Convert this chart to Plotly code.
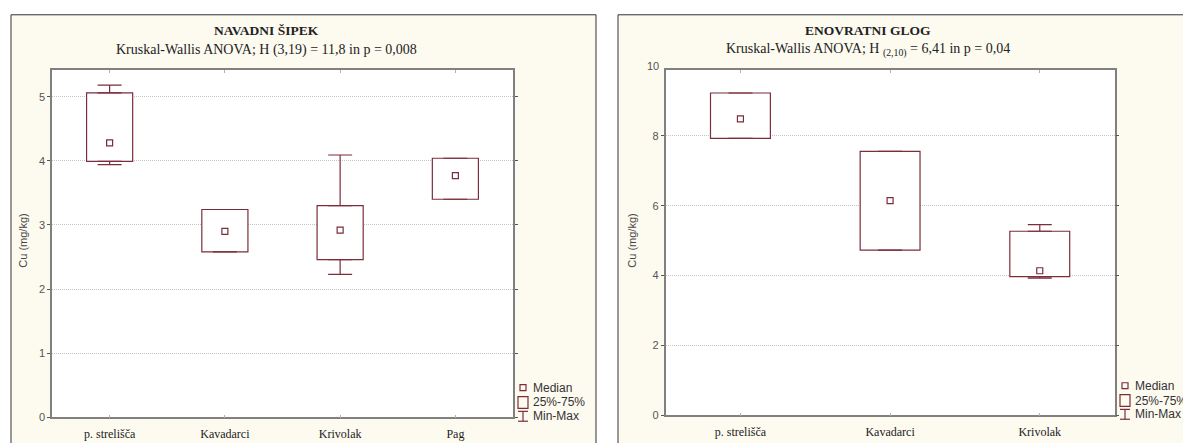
import plotly.graph_objects as go

# Cu concentrations (mg/kg) by site: min, quartiles, median, max
sipek_sites = ["p. strelišča", "Kavadarci", "Krivolak", "Pag"]
sipek_min = [3.94, 2.58, 2.23, 3.40]
sipek_q1 = [3.99, 2.58, 2.46, 3.40]
sipek_median = [4.28, 2.90, 2.92, 3.77]
sipek_q3 = [5.06, 3.24, 3.30, 4.04]
sipek_max = [5.18, 3.24, 4.09, 4.04]

glog_sites = ["p. strelišča", "Kavadarci", "Krivolak"]
glog_min = [7.93, 4.73, 3.93]
glog_q1 = [7.93, 4.73, 3.97]
glog_median = [8.49, 6.15, 4.14]
glog_q3 = [9.23, 7.56, 5.27]
glog_max = [9.23, 7.56, 5.46]

sipek_ticks = [0, 1, 2, 3, 4, 5]
glog_ticks = [0, 2, 4, 6, 8]

W, H = 1183, 443
BOX = "#7b2d3b"
CREAM = "#fdfaf0"
FRAME = "#808080"


def px(x):
    return x / W


def py(y):
    return 1 - y / H


fig = go.Figure()


def add_panel(xa, ya, sites, vmin, q1, med, q3, vmax):
    n = len(sites)
    # whiskers above and below the box
    fig.add_trace(go.Scatter(
        x=sites, y=q3, mode="markers", xaxis=xa, yaxis=ya,
        marker=dict(size=1, color="rgba(0,0,0,0)"), showlegend=False, hoverinfo="skip",
        error_y=dict(type="data", symmetric=False,
                     array=[b - a for a, b in zip(q3, vmax)], arrayminus=[0] * n,
                     color=BOX, thickness=1.2, width=12)))
    fig.add_trace(go.Scatter(
        x=sites, y=q1, mode="markers", xaxis=xa, yaxis=ya,
        marker=dict(size=1, color="rgba(0,0,0,0)"), showlegend=False, hoverinfo="skip",
        error_y=dict(type="data", symmetric=False,
                     array=[0] * n, arrayminus=[a - b for a, b in zip(q1, vmin)],
                     color=BOX, thickness=1.2, width=12)))
    # 25%-75% box
    fig.add_trace(go.Bar(
        x=sites, base=q1, y=[b - a for a, b in zip(q1, q3)], width=0.4,
        xaxis=xa, yaxis=ya, showlegend=False, hoverinfo="skip",
        marker=dict(color="white", line=dict(color=BOX, width=1.2))))
    # median
    fig.add_trace(go.Scatter(
        x=sites, y=med, mode="markers", xaxis=xa, yaxis=ya, showlegend=False,
        marker=dict(symbol="square-open", size=6, color=BOX, line=dict(width=1.2))))


add_panel("x", "y", sipek_sites, sipek_min, sipek_q1, sipek_median, sipek_q3, sipek_max)
add_panel("x2", "y2", glog_sites, glog_min, glog_q1, glog_median, glog_q3, glog_max)

xaxis_style = dict(
    type="category", showline=True, linecolor=FRAME, linewidth=1.5, mirror="ticks",
    ticks="inside", ticklen=3, tickcolor="#b0b0b0", showgrid=False, zeroline=False,
    ticklabelstandoff=5,
    tickfont=dict(family="Liberation Serif, Times New Roman, serif", size=12, color="#222"),
    fixedrange=True,
)
yaxis_style = dict(
    showline=True, linecolor=FRAME, linewidth=1.5, mirror="ticks",
    ticks="outside", ticklen=3, tickcolor="#555", zeroline=False,
    showgrid=True, gridcolor="#c4c4c4", griddash="1px,1px", gridwidth=1,
    tickfont=dict(family="Liberation Sans, Arial, sans-serif", size=11, color="#555"),
    fixedrange=True,
)

top = 71
glog_px_per_unit = 35.4
fig.update_layout(
    width=W, height=H,
    margin=dict(l=0, r=0, t=0, b=0),
    paper_bgcolor="white", plot_bgcolor="rgba(0,0,0,0)",
    barmode="overlay", showlegend=False,
    xaxis=dict(xaxis_style, domain=[px(52), px(513)], range=[-0.5, 3.5], anchor="y"),
    yaxis=dict(yaxis_style, domain=[py(423), py(top)], range=[0, (423 - top) / 65],
               tickvals=sipek_ticks, anchor="x"),
    xaxis2=dict(xaxis_style, domain=[px(665.6), px(1114.6)], range=[-0.5, 2.5], anchor="y2"),
    yaxis2=dict(yaxis_style, domain=[py(421), py(top)], range=[0, (421 - top) / glog_px_per_unit],
                tickvals=glog_ticks, anchor="x2"),
)

shapes = [
    # panel backgrounds with frames
    dict(type="rect", xref="paper", yref="paper", x0=px(11), x1=px(596), y0=-0.1, y1=py(15),
         fillcolor=CREAM, line=dict(color="#333", width=1), layer="below"),
    dict(type="rect", xref="paper", yref="paper", x0=px(618), x1=1.1, y0=-0.1, y1=py(15),
         fillcolor=CREAM, line=dict(color="#333", width=1), layer="below"),
    # white plotting areas
    dict(type="rect", xref="x domain", yref="y domain", x0=0, x1=1, y0=0, y1=1,
         fillcolor="white", line=dict(width=0), layer="below"),
    dict(type="rect", xref="x2 domain", yref="y2 domain", x0=0, x1=1, y0=0, y1=1,
         fillcolor="white", line=dict(width=0), layer="below"),
]

annotations = []
serif = "Liberation Serif, Times New Roman, serif"
sans = "Liberation Sans, Arial, sans-serif"


def text(x, y, s, size, family=serif, color="#222", xanchor="center", **kw):
    annotations.append(dict(xref="paper", yref="paper", x=px(x), y=py(y), text=s,
                            xanchor=xanchor, yanchor="middle", showarrow=False,
                            font=dict(family=family, size=size, color=color), **kw))


# titles
text(266, 31, "<b>NAVADNI ŠIPEK</b>", 13.5)
text(266, 51, "Kruskal-Wallis ANOVA; H (3,19) = 11,8 in p = 0,008", 14)
text(868, 31, "<b>ENOVRATNI GLOG</b>", 13.5)
text(868, 51, "Kruskal-Wallis ANOVA; H <sub>(2,10)</sub> = 6,41 in p = 0,04", 14)

# y-axis titles
text(23, 244, "Cu (mg/kg)", 11, family=sans, color="#444", textangle=-90)
text(632, 244, "Cu (mg/kg)", 11, family=sans, color="#444", textangle=-90)

# "10" label sits just above the right plot frame
text(661, 421 - 10 * glog_px_per_unit, "10", 11, family=sans, color="#555", xanchor="right")


# legend entries
def legend(x, ys):
    ym, yb, yw = ys
    shapes.append(dict(type="rect", xref="paper", yref="paper",
                       x0=px(x - 3), x1=px(x + 3), y0=py(ym + 3), y1=py(ym - 3),
                       line=dict(color=BOX, width=1.2), fillcolor="rgba(0,0,0,0)"))
    shapes.append(dict(type="rect", xref="paper", yref="paper",
                       x0=px(x - 5), x1=px(x + 5), y0=py(yb + 6), y1=py(yb - 6),
                       line=dict(color=BOX, width=1.2), fillcolor="rgba(0,0,0,0)"))
    for seg in [(x, yw - 5, x, yw + 5), (x - 5, yw - 5, x + 5, yw - 5), (x - 5, yw + 5, x + 5, yw + 5)]:
        shapes.append(dict(type="line", xref="paper", yref="paper",
                           x0=px(seg[0]), y0=py(seg[1]), x1=px(seg[2]), y1=py(seg[3]),
                           line=dict(color=BOX, width=1.2)))
    for y, s in zip(ys, ["Median", "25%-75%", "Min-Max"]):
        text(x + 8, y, s, 12, family=sans, color="#333", xanchor="left")


legend(523, (393, 408, 422))
legend(1125, (391, 406, 420))

fig.update_layout(shapes=shapes, annotations=annotations)
fig.write_html("out.html")
